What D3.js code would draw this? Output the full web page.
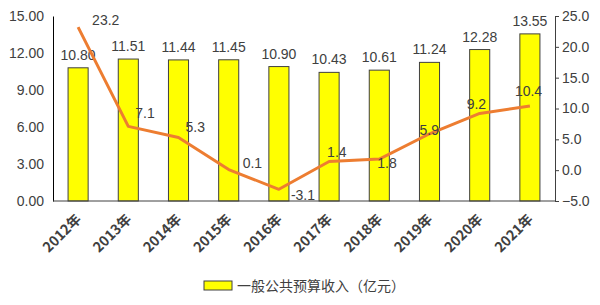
<!DOCTYPE html>
<html><head><meta charset="utf-8">
<script src="https://cdnjs.cloudflare.com/ajax/libs/d3/7.8.5/d3.min.js"></script>
<style>body{margin:0;background:#fff}svg{display:block}</style>
</head><body><svg id="c" width="600" height="305"></svg>
<script>
const categories = ["2012年","2013年","2014年","2015年","2016年","2017年","2018年","2019年","2020年","2021年"];
const revenue = [10.80, 11.51, 11.44, 11.45, 10.90, 10.43, 10.61, 11.24, 12.28, 13.55];
const growth = [23.2, 7.1, 5.3, 0.1, -3.1, 1.4, 1.8, 5.9, 9.2, 10.4];
const leftTicks = [0, 3, 6, 9, 12, 15];
const rightTicks = [-5, 0, 5, 10, 15, 20, 25];
const legendLabel = "一般公共预算收入（亿元）";

const svg = d3.select("#c");
const L = 53, R = 555, T = 16, B = 201;
const font = "'Liberation Sans', Arial, sans-serif";
const txt = "#404040";

const x = d3.scaleBand().domain(categories).range([L, R]).paddingInner(0.6).paddingOuter(0.3);
const yL = d3.scaleLinear().domain([0, 15]).range([B, T]);
const yR = d3.scaleLinear().domain([-5, 25]).range([B, T]);

// left axis
const la = svg.append("g").attr("transform", `translate(${L},0)`)
  .call(d3.axisLeft(yL).tickValues(leftTicks).tickFormat(d3.format(".2f")).tickSize(0).tickPadding(9));
la.select(".domain").attr("stroke", "#000").attr("stroke-width", 1);
la.selectAll("text").attr("font-family", font).attr("font-size", 14).attr("fill", txt);

// right axis
const ra = svg.append("g").attr("transform", `translate(${R},0)`)
  .call(d3.axisRight(yR).tickValues(rightTicks).tickFormat(d3.format(".1f")).tickSize(4).tickPadding(3));
ra.select(".domain").attr("stroke", "#404040");
ra.selectAll("line").attr("stroke", "#404040");
ra.selectAll("text").attr("font-family", font).attr("font-size", 14).attr("fill", txt);

// bars
svg.append("g").selectAll("rect").data(revenue).join("rect")
  .attr("x", (d, i) => x(categories[i]))
  .attr("width", x.bandwidth())
  .attr("y", d => yL(d))
  .attr("height", d => B - yL(d))
  .attr("fill", "#FFFF00").attr("stroke", "#404040").attr("stroke-width", 1);

// bottom axis
const ba = svg.append("g").attr("transform", `translate(0,${B})`)
  .call(d3.axisBottom(x).tickSize(0).tickPadding(0));
ba.select(".domain").attr("stroke", "#404040").attr("d", `M${L},0H${R}`);
ba.selectAll("text").attr("font-family", "'Noto Sans CJK SC', sans-serif").attr("font-weight", "bold")
  .attr("font-size", 14).attr("fill", txt)
  .attr("text-anchor", "end").attr("dy", null).attr("y", 0)
  .attr("transform", "translate(4,19) rotate(-45)");

// bar labels
svg.append("g").selectAll("text").data(revenue).join("text")
  .attr("x", (d, i) => x(categories[i]) + x.bandwidth() / 2)
  .attr("y", d => yL(d) - 8)
  .attr("text-anchor", "middle")
  .attr("font-family", font).attr("font-size", 14).attr("fill", txt)
  .text(d => d.toFixed(2));

// line
const cx = i => x(categories[i]) + x.bandwidth() / 2;
svg.append("path").datum(growth)
  .attr("d", d3.line().x((d, i) => cx(i)).y(d => yR(d)))
  .attr("fill", "none").attr("stroke", "#ED7D31").attr("stroke-width", 3).attr("stroke-linejoin", "round");

// line labels (offsets are layout only)
const off = [[14, -2], [7, -8], [7, -5], [14, -2], [12, 11], [-2, -5], [-2, 9], [-10, 1], [-13, -4], [-15, -10]];
svg.append("g").selectAll("text").data(growth).join("text")
  .attr("x", (d, i) => cx(i) + off[i][0])
  .attr("y", (d, i) => yR(d) + off[i][1])
  .attr("font-family", font).attr("font-size", 14).attr("fill", txt)
  .text(d => d.toFixed(1));

// legend
svg.append("rect").attr("x", 204).attr("y", 281).attr("width", 28).attr("height", 9)
  .attr("fill", "#FFFF00").attr("stroke", "#404040");
svg.append("text").attr("x", 237).attr("y", 291)
  .attr("font-family", "'Noto Sans CJK SC', sans-serif").attr("font-size", 14).attr("fill", txt)
  .text(legendLabel);
</script></body></html>
